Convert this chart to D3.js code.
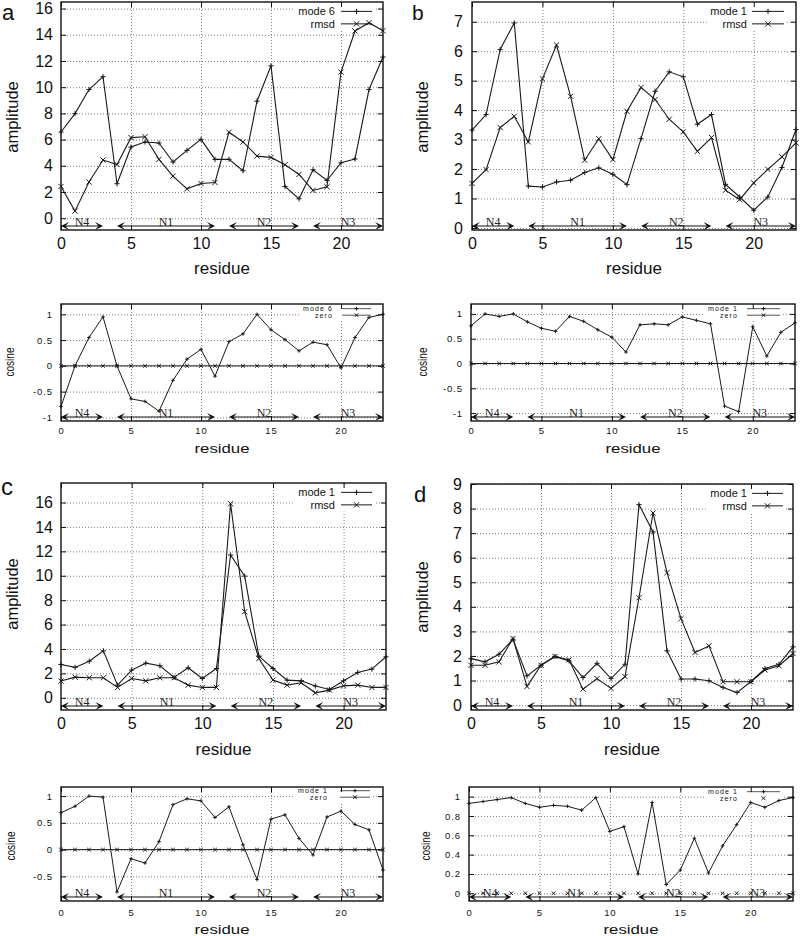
<!DOCTYPE html>
<html><head><meta charset="utf-8">
<script src="https://cdn.jsdelivr.net/npm/d3@7/dist/d3.min.js"></script>
<style>body{margin:0;background:#fff} svg{display:block}</style>
</head><body>
<svg id="fig" width="800" height="936"></svg>
<script>
// ---------- data ----------
const residues = [0,1,2,3,4,5,6,7,8,9,10,11,12,13,14,15,16,17,18,19,20,21,22,23];
const residueTicks = [0,5,10,15,20];

const ampA_mode6 = [6.58,7.98,9.82,10.8,2.63,5.43,5.82,5.74,4.29,5.18,6.02,4.49,4.5,3.62,8.93,11.63,2.42,1.48,3.7,2.88,4.23,4.52,9.82,12.3];
const ampA_rmsd  = [2.42,0.54,2.76,4.44,4.1,6.15,6.22,4.49,3.21,2.24,2.65,2.73,6.56,5.82,4.74,4.64,4.08,3.34,2.12,2.4,11.15,14.29,14.92,14.31];
const ampB_mode1 = [3.32,3.85,6.06,6.96,1.42,1.39,1.56,1.62,1.88,2.04,1.82,1.47,3.03,4.64,5.3,5.13,3.52,3.85,1.48,1.05,0.6,1.05,2.05,3.34];
const ampB_rmsd  = [1.51,1.98,3.41,3.79,2.92,5.06,6.21,4.47,2.3,3.03,2.32,3.96,4.77,4.36,3.69,3.26,2.6,3.07,1.28,0.96,1.53,1.99,2.41,2.89];
const ampC_mode1 = [2.73,2.49,3.0,3.85,1.04,2.27,2.84,2.62,1.67,2.46,1.58,2.4,11.7,9.97,3.42,2.4,1.45,1.39,0.96,0.68,1.39,2.08,2.35,3.36];
const ampC_rmsd  = [1.37,1.69,1.64,1.64,0.85,1.58,1.39,1.64,1.64,1.04,0.85,0.85,15.9,7.05,3.22,1.45,1.04,1.23,0.41,0.63,0.98,1.04,0.85,0.85];
const ampD_mode1 = [1.89,1.76,2.07,2.68,1.19,1.62,1.98,1.8,1.12,1.7,1.08,1.66,8.16,7.05,2.21,1.06,1.06,0.99,0.72,0.51,0.96,1.49,1.66,2.37];
const ampD_rmsd  = [1.62,1.62,1.76,2.71,0.76,1.62,1.98,1.84,0.65,1.08,0.68,1.16,4.37,7.82,5.39,3.52,2.14,2.41,0.95,0.95,0.95,1.43,1.6,2.1];

const cosA_mode6 = [-0.79,0,0.55,0.95,0,-0.64,-0.69,-0.88,-0.28,0.13,0.32,-0.2,0.47,0.62,1.0,0.7,0.51,0.29,0.46,0.41,-0.04,0.55,0.94,1.0];
const cosB_mode1 = [0.76,1.0,0.95,1.0,0.84,0.71,0.65,0.95,0.85,0.68,0.53,0.23,0.78,0.8,0.78,0.94,0.87,0.8,-0.86,-0.97,0.74,0.15,0.63,0.82];
const cosC_mode1 = [0.69,0.81,1.0,0.98,-0.79,-0.17,-0.25,0.15,0.84,0.95,0.91,0.6,0.8,0.09,-0.56,0.57,0.65,0.21,-0.1,0.61,0.72,0.47,0.37,-0.38];
const cosD_mode1 = [0.93,0.95,0.97,0.99,0.93,0.89,0.91,0.9,0.86,0.99,0.64,0.69,0.2,0.94,0.09,0.24,0.57,0.21,0.49,0.71,0.94,0.89,0.96,0.99];
const zeroSeries = [0,0,0,0,0,0,0,0,0,0,0,0,0,0,0,0,0,0,0,0,0,0,0,0];

const regionNames = ["N4","N1","N2","N3"];
const regionStart = [0,4,12,18];
const regionEnd   = [3,11,17,23];

const ampTicks16 = [0,2,4,6,8,10,12,14,16];
const ampTicks7  = [0,1,2,3,4,5,6,7];
const ampTicks9  = [0,1,2,3,4,5,6,7,8,9];
const cosTicksFull = [-1,-0.5,0,0.5,1];
const cosTicksC    = [-0.5,0,0.5,1];
const cosTicksD    = [0,0.2,0.4,0.6,0.8,1];

// ---------- drawing ----------
const svg = d3.select('#fig');
svg.append('rect').attr('width',800).attr('height',936).attr('fill','#fff');
const SANS = "'Liberation Sans', Arial, Helvetica, sans-serif";
const SERIF = "'Liberation Serif', 'Times New Roman', serif";

function markerPath(type, s){
  if(type==='plus') return `M${-s},0H${s}M0,${-s}V${s}`;
  return `M${-s},${-s}L${s},${s}M${-s},${s}L${s},${-s}`;
}

function panel(c){
  const g = svg.append('g');
  const x = d3.scaleLinear().domain([0,23]).range([c.left,c.right]);
  const y = d3.scaleLinear().domain(c.yDomain).range([c.bottom,c.top]);
  const H = c.bottom - c.top, W = c.right - c.left;

  // grid
  const gx = g.append('g').attr('transform',`translate(0,${c.bottom})`)
    .call(d3.axisBottom(x).tickValues(residueTicks.filter(v=>v>0)).tickSize(-H).tickFormat(''));
  const gy = g.append('g').attr('transform',`translate(${c.left},0)`)
    .call(d3.axisLeft(y).tickValues(c.yTicks).tickSize(-W).tickFormat(''));
  [gx,gy].forEach(a=>{
    a.select('.domain').remove();
    a.selectAll('line').attr('stroke','#808080').attr('stroke-width',1).attr('stroke-dasharray','1,2');
  });

  // legend background
  const L = c.legend;
  const amp = c.kind==='amp';
  const lfs = amp ? 11 : 7;
  const bw = amp ? 40 : 34;
  g.append('rect').attr('x',L.textX-bw).attr('y',L.y0-lfs)
    .attr('width',(L.sx1+3)-(L.textX-bw)).attr('height',L.dy*(c.series.length-1)+lfs+3)
    .attr('fill','#fff');

  // series
  const ms = amp ? 2.6 : 1.8;
  c.series.forEach(s=>{
    if(s.line!==false){
      g.append('path').datum(s.vals)
        .attr('d', d3.line().x((d,i)=>x(residues[i])).y(d=>y(d)))
        .attr('fill','none').attr('stroke','#1a1a1a').attr('stroke-width',amp?1.1:1);
    }
    g.append('g').selectAll('path').data(s.vals).join('path')
      .attr('transform',(d,i)=>`translate(${x(residues[i])},${y(d)})`)
      .attr('d',markerPath(s.mk, ms)).attr('stroke','#1a1a1a').attr('stroke-width',1).attr('fill','none');
  });

  // legend entries
  c.series.forEach((s,k)=>{
    const by = L.y0 + k*L.dy;
    const t = g.append('text').attr('x',L.textX).attr('y',by).attr('text-anchor','end')
      .attr('font-family',SANS).attr('font-size',lfs).attr('fill','#111').text(s.label);
    if(!amp) t.attr('letter-spacing',1.1);
    const ly = by - lfs*0.33;
    if(s.line!==false){
      g.append('line').attr('x1',L.sx0).attr('x2',L.sx1).attr('y1',ly).attr('y2',ly)
        .attr('stroke', amp ? '#1a1a1a' : '#555').attr('stroke-width',1);
    }
    g.append('path').attr('transform',`translate(${(L.sx0+L.sx1)/2},${ly})`)
      .attr('d',markerPath(s.mk, ms)).attr('stroke','#1a1a1a').attr('fill','none');
  });

  // axes (inward ticks) with labels
  const fs = amp ? 16 : 9.5;
  const ax = g.append('g').attr('transform',`translate(0,${c.bottom})`)
    .call(d3.axisBottom(x).tickValues(residueTicks).tickSize(-5).tickPadding(c.xTickBase - 0.71*fs).tickFormat(d3.format('d')));
  const ay = g.append('g').attr('transform',`translate(${c.left},0)`)
    .call(d3.axisLeft(y).tickValues(c.yTicks).tickSize(-5).tickPadding(c.yPad).tickFormat(c.yFmt));
  const at = g.append('g').attr('transform',`translate(0,${c.top})`)
    .call(d3.axisTop(x).tickValues(residueTicks).tickSize(-5).tickFormat(''));
  const ar = g.append('g').attr('transform',`translate(${c.right},0)`)
    .call(d3.axisRight(y).tickValues(c.yTicks).tickSize(-5).tickFormat(''));
  [ax,ay,at,ar].forEach(a=>{
    a.select('.domain').remove();
    a.selectAll('line').attr('stroke','#111');
    a.selectAll('text').attr('font-family',SANS).attr('font-size',fs).attr('fill','#111');
    if(!amp) a.selectAll('text').attr('letter-spacing',0.9);
  });

  // frame
  g.append('rect').attr('x',c.left).attr('y',c.top).attr('width',W).attr('height',H)
    .attr('fill','none').attr('stroke','#111').attr('stroke-width',1.4);

  // region arrows
  const ya = c.bottom - 4;
  regionNames.forEach((nm,i)=>{
    const xa = x(regionStart[i]), xb = x(regionEnd[i]);
    g.append('line').attr('x1',xa+3).attr('x2',xb-3).attr('y1',ya).attr('y2',ya)
      .attr('stroke','#111').attr('stroke-width',1.2);
    const hl = 8, hw = 4;
    [[xa,-1],[xb,1]].forEach(([tx,dir])=>{
      g.append('path').attr('d',`M${tx},${ya}L${tx-dir*hl},${ya-hw}L${tx-dir*hl*0.55},${ya}L${tx-dir*hl},${ya+hw}Z`)
        .attr('fill','#111');
    });
    g.append('text').attr('x',x((regionStart[i]+regionEnd[i])/2)).attr('y',ya)
      .attr('text-anchor','middle').attr('font-family',SERIF).attr('font-size',12)
      .attr('fill','#222').text(nm);
  });

  // axis titles
  if(amp){
    svg.append('text').attr('transform',`translate(${c.ylab[0]},${c.ylab[1]}) rotate(-90)`)
      .attr('text-anchor','middle').attr('font-family',SANS).attr('font-size',16.5).attr('fill','#111').text('amplitude');
    svg.append('text').attr('x',(c.left+c.right)/2).attr('y',c.xlabY).attr('text-anchor','middle')
      .attr('font-family',SANS).attr('font-size',17).attr('fill','#111').text('residue');
    svg.append('text').attr('x',c.letter[1]).attr('y',c.letter[2]).attr('font-family',SANS)
      .attr('font-size',c.letter[3]).attr('fill','#111').text(c.letter[0]);
  } else {
    svg.append('text').attr('transform',`translate(${c.ylab[0]},${c.ylab[1]}) rotate(-90)`)
      .attr('text-anchor','middle').attr('font-family',SANS).attr('font-size',13).attr('fill','#111')
      .attr('textLength',29).attr('lengthAdjust','spacingAndGlyphs').text('cosine');
    svg.append('text').attr('x',(c.left+c.right)/2).attr('y',c.xlabY).attr('text-anchor','middle')
      .attr('font-family',SANS).attr('font-size',12.5).attr('fill','#111')
      .attr('textLength',55).attr('lengthAdjust','spacingAndGlyphs').text('residue');
  }
}

const fmtInt = d3.format('d');
const fmtCos = d => String(d);

panel({kind:'amp', left:61, right:383, top:2, bottom:230, yDomain:[-0.9,16.5], yTicks:ampTicks16, yFmt:fmtInt, yPad:8, xTickBase:18.5,
  series:[{vals:ampA_mode6, mk:'plus', label:'mode 6'},{vals:ampA_rmsd, mk:'cross', label:'rmsd'}],
  legend:{textX:335, y0:15, dy:12.5, sx0:341, sx1:372}, ylab:[18,117], xlabY:274, letter:['a',2,19.5,22]});
panel({kind:'amp', left:472, right:796, top:2, bottom:230, yDomain:[-0.07,7.67], yTicks:ampTicks7, yFmt:fmtInt, yPad:9, xTickBase:18.5,
  series:[{vals:ampB_mode1, mk:'plus', label:'mode 1'},{vals:ampB_rmsd, mk:'cross', label:'rmsd'}],
  legend:{textX:747, y0:15, dy:12.5, sx0:752, sx1:784}, ylab:[428,117], xlabY:274, letter:['b',412,19.5,21]});
panel({kind:'cos', left:61, right:383, top:304, bottom:421, yDomain:[-1.07,1.2], yTicks:cosTicksFull, yFmt:fmtCos, yPad:8, xTickBase:13,
  series:[{vals:cosA_mode6, mk:'plus', label:'mode 6'},{vals:zeroSeries, mk:'cross', label:'zero'}],
  legend:{textX:333, y0:311, dy:6.5, sx0:342, sx1:371}, ylab:[14,362], xlabY:453});
panel({kind:'cos', left:471, right:795, top:304, bottom:421, yDomain:[-1.16,1.2], yTicks:cosTicksFull, yFmt:fmtCos, yPad:8, xTickBase:13,
  series:[{vals:cosB_mode1, mk:'plus', label:'mode 1'},{vals:zeroSeries, mk:'cross', label:'zero'}],
  legend:{textX:738, y0:311, dy:6.5, sx0:747, sx1:780}, ylab:[427,362], xlabY:453});
panel({kind:'amp', left:61, right:386, top:483, bottom:710, yDomain:[-1,17.6], yTicks:ampTicks16, yFmt:fmtInt, yPad:8, xTickBase:18.5,
  series:[{vals:ampC_mode1, mk:'plus', label:'mode 1'},{vals:ampC_rmsd, mk:'cross', label:'rmsd'}],
  legend:{textX:335, y0:496, dy:12.5, sx0:341, sx1:372}, ylab:[18,594], xlabY:755, letter:['c',1,495,24]});
panel({kind:'amp', left:471, right:793, top:484, bottom:710, yDomain:[-0.2,9], yTicks:ampTicks9, yFmt:fmtInt, yPad:9, xTickBase:18.5,
  series:[{vals:ampD_mode1, mk:'plus', label:'mode 1'},{vals:ampD_rmsd, mk:'cross', label:'rmsd'}],
  legend:{textX:747, y0:497, dy:12.5, sx0:752, sx1:783}, ylab:[428,597], xlabY:755, letter:['d',414,502,22]});
panel({kind:'cos', left:61, right:383, top:787, bottom:901, yDomain:[-0.96,1.17], yTicks:cosTicksC, yFmt:fmtCos, yPad:8, xTickBase:15,
  series:[{vals:cosC_mode1, mk:'plus', label:'mode 1'},{vals:zeroSeries, mk:'cross', label:'zero'}],
  legend:{textX:328, y0:793, dy:6.5, sx0:340, sx1:370}, ylab:[15,846], xlabY:934});
panel({kind:'cos', left:469, right:793, top:787, bottom:901, yDomain:[-0.08,1.1], yTicks:cosTicksD, yFmt:fmtCos, yPad:8, xTickBase:15,
  series:[{vals:cosD_mode1, mk:'plus', label:'mode 1'},{vals:zeroSeries, mk:'cross', label:'zero', line:false}],
  legend:{textX:738, y0:794, dy:6.5, sx0:747, sx1:780}, ylab:[430,846], xlabY:934});
</script>
</body></html>
